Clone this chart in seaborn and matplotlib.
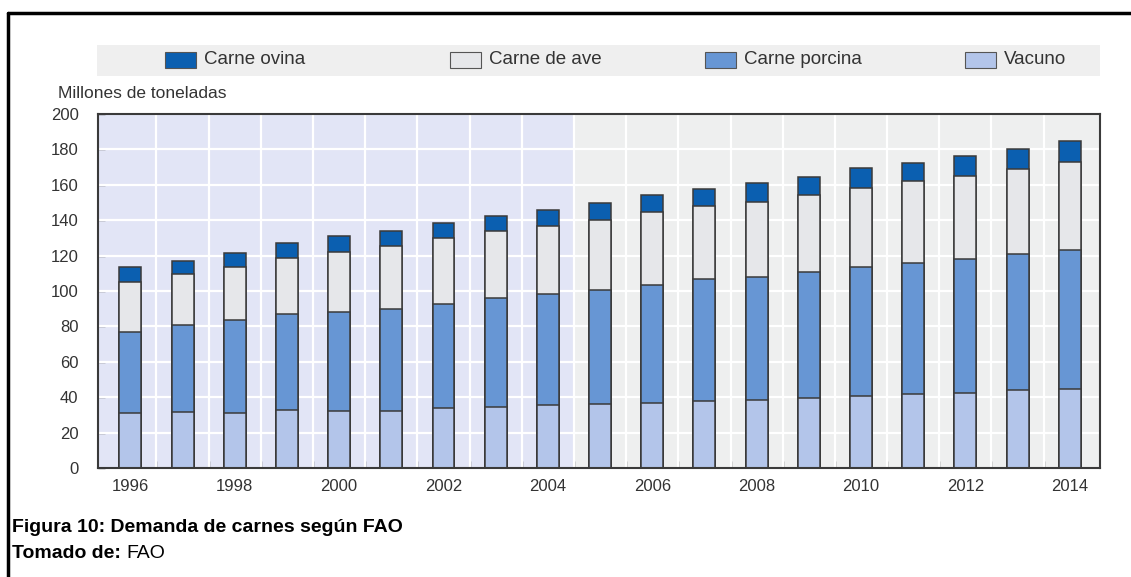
import numpy as np
import pandas as pd
import matplotlib
matplotlib.use("Agg")
import matplotlib.pyplot as plt
import seaborn as sns
from matplotlib.patches import Rectangle
from matplotlib.lines import Line2D

years = list(range(1996, 2015))
vacuno = [30.9, 31.6, 30.9, 32.6, 32.4, 32.4, 33.7, 34.6, 35.6, 36.0,
          36.9, 37.9, 38.4, 39.4, 40.7, 41.6, 42.2, 44.1, 44.6]
carne_porcina = [46.1, 49.0, 52.7, 54.2, 55.9, 57.5, 59.1, 61.2, 62.9, 64.6,
                 66.5, 68.9, 69.7, 71.5, 73.0, 74.0, 75.7, 76.8, 78.6]
carne_ave = [28.3, 28.8, 30.1, 31.7, 33.9, 35.5, 37.3, 37.9, 38.2, 39.5,
             41.0, 41.2, 42.4, 43.3, 44.3, 46.5, 47.1, 48.0, 49.5]
carne_ovina = [8.4, 7.7, 8.0, 8.8, 8.9, 8.7, 8.5, 8.8, 8.9, 9.4,
               9.8, 9.6, 10.3, 10.4, 11.3, 10.4, 11.3, 11.1, 12.0]

series_names = ["Carne ovina", "Carne de ave", "Carne porcina", "Vacuno"]
series_colors = ["#0b5fb0", "#e6e7ea", "#6796d4", "#b3c5ea"]
yticks = [0, 20, 40, 60, 80, 100, 120, 140, 160, 180, 200]

sns.set_theme(style="white")
plt.rcParams['font.family'] = ['Liberation Sans Narrow', 'Liberation Sans', 'DejaVu Sans']

df = pd.DataFrame({"year": [str(y) for y in years], "Vacuno": vacuno,
                   "Carne porcina": carne_porcina, "Carne de ave": carne_ave,
                   "Carne ovina": carne_ovina})
stack_order = ["Vacuno", "Carne porcina", "Carne de ave", "Carne ovina"]
cum = df[stack_order].cumsum(axis=1)

W, H = 1131, 577
fig = plt.figure(figsize=(11.31, 5.77), dpi=100)
fig.patch.set_facecolor("white")
ax = fig.add_axes([98/W, 1-468/H, (1100-98)/W, (468-114)/H])

n = len(years)
split = 8.5
ax.axvspan(-0.62, split, color="#e2e5f6", zorder=0, lw=0)
ax.axvspan(split, n - 0.42, color="#eeefef", zorder=0, lw=0)
for yv in yticks[1:-1]:
    ax.axhline(yv, color="white", lw=1.6, zorder=1)
for i in range(n - 1):
    ax.axvline(i + 0.5, color="white", lw=1.6, zorder=1)

color_map = dict(zip(series_names, series_colors))
for k, name in enumerate(reversed(stack_order)):
    sns.barplot(x=df["year"], y=cum[name], color=color_map[name], saturation=1,
                width=0.42, edgecolor="#3a3a3a", linewidth=1.1, ax=ax,
                zorder=3 + k)

ax.set_xlim(-0.62, n - 0.42)
ax.set_ylim(0, 200)
ax.set_yticks(yticks)
ax.set_yticklabels([str(v) for v in yticks], fontsize=12, color="#333333")
ax.set_xticks(range(n))
ax.set_xticklabels([str(y) if (y - 1996) % 2 == 0 else "" for y in years],
                   fontsize=12, color="#333333")
ax.set_xticks([i + 0.5 for i in range(n - 1)], minor=True)
ax.tick_params(axis="x", which="major", length=0, pad=8)
ax.tick_params(axis="x", which="minor", direction="in", length=5, width=1, color="#444444", bottom=True)
ax.tick_params(axis="y", which="major", direction="in", length=5, width=1, color="#444444", left=True, pad=14)
ax.set_xlabel("")
ax.set_ylabel("")
for s in ax.spines.values():
    s.set_color("#3a3a3a")
    s.set_linewidth(1.5)
    s.set_zorder(10)

fig.text(58/W, 1-93/H, "Millones de toneladas", fontsize=12.5, color="#333333",
         va="center", ha="left")

# legend band
fig.add_artist(Rectangle((97/W, 1-76/H), (1100-97)/W, 31/H, transform=fig.transFigure,
                         facecolor="#efefef", edgecolor="none"))
patch_x = [165, 450, 705, 965]
for px, name, col in zip(patch_x, series_names, series_colors):
    fig.add_artist(Rectangle((px/W, 1-68/H), 31/W, 16/H, transform=fig.transFigure,
                             facecolor=col, edgecolor="#555555", lw=0.8))
    fig.text((px + 39)/W, 1-60/H, name, fontsize=13.5, color="#333333", va="center", ha="left")

# caption
cap_font = ["Liberation Sans", "DejaVu Sans"]
fig.text(12/W, 1-527/H, "Figura 10: Demanda de carnes según FAO", fontsize=14,
         fontweight="bold", family=cap_font, color="black", va="center", ha="left")
t1 = fig.text(12/W, 1-553/H, "Tomado de: ", fontsize=14, fontweight="bold",
              family=cap_font, color="black", va="center", ha="left")
fig.canvas.draw()
bb = t1.get_window_extent(renderer=fig.canvas.get_renderer())
fig.text(bb.x1 / (W), 1-553/H, "FAO", fontsize=14,
         family=cap_font, color="black", va="center", ha="left")

# figure frame (top and left)
fig.add_artist(Line2D([8/W, 1.0], [1-13/H, 1-13/H], transform=fig.transFigure, color="black", lw=2.5))
fig.add_artist(Line2D([8/W, 8/W], [0, 1-13/H], transform=fig.transFigure, color="black", lw=2.5))

fig.savefig("out.png", dpi=100)
